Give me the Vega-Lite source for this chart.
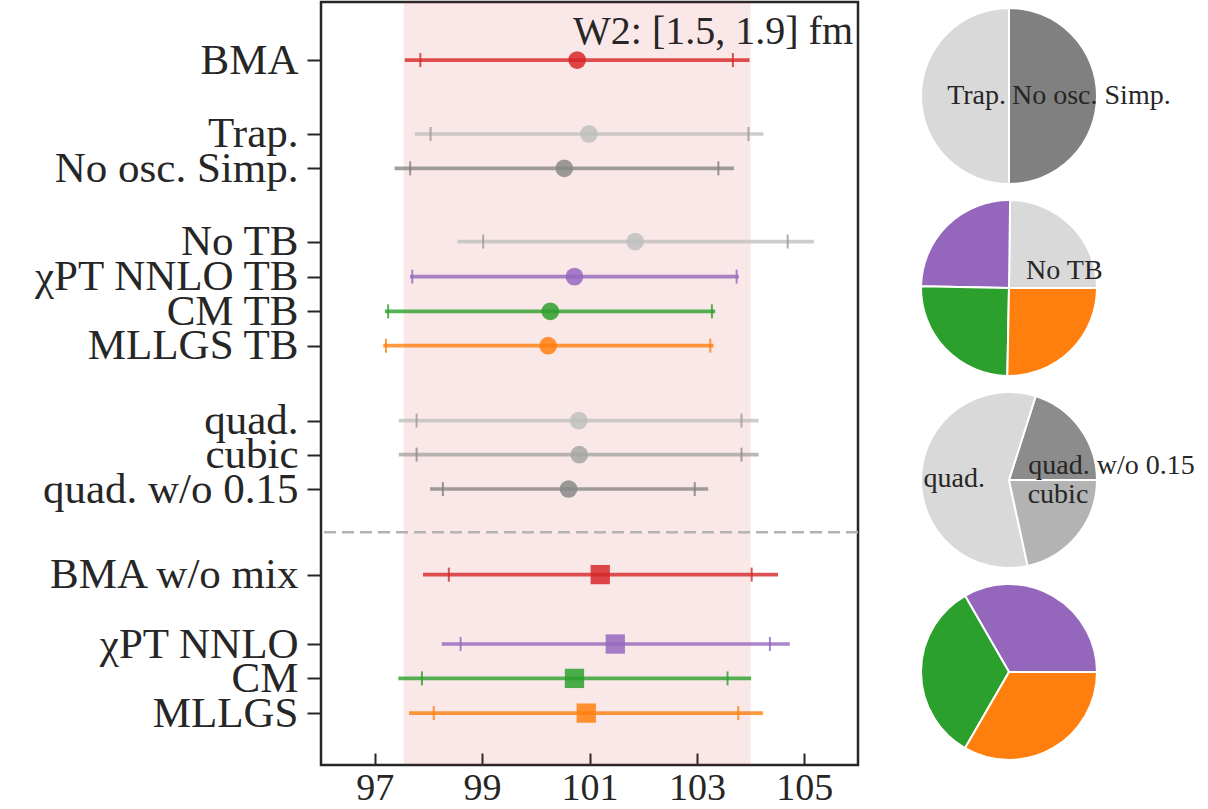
{
  "$schema": "https://vega.github.io/schema/vega-lite/v6.json",
  "background": "white",
  "padding": {"left": 31, "top": 0, "right": 0, "bottom": 0},
  "config": {
    "view": {"stroke": "#262626", "strokeWidth": 2.5},
    "font": "Liberation Serif",
    "axis": {"grid": false, "domain": false, "labelFont": "Liberation Serif", "labelColor": "#262626", "tickColor": "#262626", "tickWidth": 2, "title": null, "labelLimit": 600}
  },
  "datasets": {
    "rows": [
      {"name": "BMA", "pos": 20.51, "section": "mix", "lo": 97.56, "hi": 103.98, "slo": 97.85, "shi": 103.67, "val": 100.77},
      {"name": "Trap.", "pos": 18.36, "section": "mix", "lo": 97.75, "hi": 104.24, "slo": 98.04, "shi": 103.96, "val": 100.99},
      {"name": "No osc. Simp.", "pos": 17.36, "section": "mix", "lo": 97.37, "hi": 103.69, "slo": 97.66, "shi": 103.40, "val": 100.53},
      {"name": "No TB", "pos": 15.23, "section": "mix", "lo": 98.54, "hi": 105.18, "slo": 99.02, "shi": 104.69, "val": 101.85},
      {"name": "χPT NNLO TB", "pos": 14.21, "section": "mix", "lo": 97.66, "hi": 103.78, "slo": 97.70, "shi": 103.74, "val": 100.72},
      {"name": "CM TB", "pos": 13.2, "section": "mix", "lo": 97.19, "hi": 103.34, "slo": 97.25, "shi": 103.28, "val": 100.27},
      {"name": "MLLGS TB", "pos": 12.2, "section": "mix", "lo": 97.16, "hi": 103.31, "slo": 97.21, "shi": 103.25, "val": 100.23},
      {"name": "quad.", "pos": 10.02, "section": "mix", "lo": 97.45, "hi": 104.15, "slo": 97.78, "shi": 103.83, "val": 100.80},
      {"name": "cubic", "pos": 9.03, "section": "mix", "lo": 97.45, "hi": 104.15, "slo": 97.78, "shi": 103.83, "val": 100.81},
      {"name": "quad. w/o 0.15", "pos": 8.03, "section": "mix", "lo": 98.03, "hi": 103.21, "slo": 98.27, "shi": 102.96, "val": 100.61},
      {"name": "BMA w/o mix", "pos": 5.54, "section": "nomix", "lo": 97.90, "hi": 104.51, "slo": 98.38, "shi": 104.02, "val": 101.20},
      {"name": "χPT NNLO", "pos": 3.52, "section": "nomix", "lo": 98.25, "hi": 104.73, "slo": 98.60, "shi": 104.36, "val": 101.48},
      {"name": "CM", "pos": 2.52, "section": "nomix", "lo": 97.44, "hi": 104.01, "slo": 97.88, "shi": 103.57, "val": 100.72},
      {"name": "MLLGS", "pos": 1.51, "section": "nomix", "lo": 97.64, "hi": 104.23, "slo": 98.10, "shi": 103.77, "val": 100.94}
    ],
    "band": [{"lo": 97.54, "hi": 104.0}],
    "sep": [{"pos": 6.77}],
    "label": [{"text": "W2: [1.5, 1.9] fm", "x": 106, "y": 22.2}],
    "pies": [
      {"pie": 1, "idx": 1, "name": "Trap.", "w": 0.5, "label": "Trap."},
      {"pie": 1, "idx": 2, "name": "No osc. Simp.", "w": 0.5, "label": "No osc. Simp."},
      {"pie": 2, "idx": 1, "name": "No TB", "w": 0.248, "label": "No TB"},
      {"pie": 2, "idx": 2, "name": "χPT NNLO TB", "w": 0.249, "label": ""},
      {"pie": 2, "idx": 3, "name": "CM TB", "w": 0.25, "label": ""},
      {"pie": 2, "idx": 4, "name": "MLLGS TB", "w": 0.253, "label": ""},
      {"pie": 3, "idx": 1, "name": "quad. w/o 0.15", "w": 0.201, "label": "quad. w/o 0.15"},
      {"pie": 3, "idx": 2, "name": "quad.", "w": 0.583, "label": "quad."},
      {"pie": 3, "idx": 3, "name": "cubic", "w": 0.216, "label": "cubic"},
      {"pie": 4, "idx": 1, "name": "χPT NNLO", "w": 0.3333, "label": ""},
      {"pie": 4, "idx": 2, "name": "CM", "w": 0.3333, "label": ""},
      {"pie": 4, "idx": 3, "name": "MLLGS", "w": 0.3334, "label": ""}
    ]
  },
  "resolve": {"scale": {"color": "independent", "theta": "independent"}},
  "spacing": 56,
  "hconcat": [
    {
      "width": 537,
      "height": 763,
      "resolve": {"scale": {"color": "independent"}},
      "layer": [
        {
          "data": {"name": "band"},
          "mark": {"type": "rect", "color": "#d62728", "opacity": 0.11},
          "encoding": {
            "x": {"field": "lo", "type": "quantitative", "scale": {"domain": [96, 106], "nice": false, "zero": false},
                  "axis": {"values": [97, 99, 101, 103, 105], "tickSize": -12, "labelPadding": 16, "labelFontSize": 38, "labelFlush": false, "title": null}},
            "x2": {"field": "hi"}
          }
        },
        {
          "data": {"name": "sep"},
          "mark": {"type": "rule", "color": "#b3b3b3", "strokeWidth": 2.5, "strokeDash": [12, 6]},
          "encoding": {
            "y": {"field": "pos", "type": "quantitative", "scale": {"domain": [0, 22.2], "nice": false, "zero": false},
                  "axis": {"values": [20.51, 18.36, 17.36, 15.23, 14.21, 13.2, 12.2, 10.02, 9.03, 8.03, 5.54, 3.52, 2.52, 1.51], "labelExpr": "datum.value == 20.51 ? 'BMA' : datum.value == 18.36 ? 'Trap.' : datum.value == 17.36 ? 'No osc. Simp.' : datum.value == 15.23 ? 'No TB' : datum.value == 14.21 ? 'χPT NNLO TB' : datum.value == 13.2 ? 'CM TB' : datum.value == 12.2 ? 'MLLGS TB' : datum.value == 10.02 ? 'quad.' : datum.value == 9.03 ? 'cubic' : datum.value == 8.03 ? 'quad. w/o 0.15' : datum.value == 5.54 ? 'BMA w/o mix' : datum.value == 3.52 ? 'χPT NNLO' : datum.value == 2.52 ? 'CM' : datum.value == 1.51 ? 'MLLGS' : ''", "tickSize": 14, "labelPadding": 9, "labelFontSize": 43, "labelLimit": 600, "labelOverlap": false, "labelFlush": false, "labelBound": false, "title": null}}
          }
        },
        {
          "data": {"name": "rows"},
          "mark": {"type": "rule", "strokeWidth": 3.7, "opacity": 0.8},
          "encoding": {
            "y": {"field": "pos", "type": "quantitative"},
            "x": {"field": "lo", "type": "quantitative"},
            "x2": {"field": "hi"},
            "color": {"field": "name", "type": "nominal", "legend": null,
                      "scale": {"domain": ["BMA","Trap.","No osc. Simp.","No TB","χPT NNLO TB","CM TB","MLLGS TB","quad.","cubic","quad. w/o 0.15","BMA w/o mix","χPT NNLO","CM","MLLGS"],
                                "range": ["#d62728","#c0c0c0","#888888","#c0c0c0","#9467bd","#2ca02c","#ff7f0e","#c0c0c0","#a6a6a6","#888888","#d62728","#9467bd","#2ca02c","#ff7f0e"]}}
          }
        },
        {
          "data": {"name": "rows"},
          "mark": {"type": "tick", "orient": "vertical", "size": 14, "thickness": 2, "opacity": 0.8},
          "encoding": {
            "y": {"field": "pos", "type": "quantitative"},
            "x": {"field": "slo", "type": "quantitative"},
            "color": {"field": "name", "type": "nominal", "legend": null,
                      "scale": {"domain": ["BMA","Trap.","No osc. Simp.","No TB","χPT NNLO TB","CM TB","MLLGS TB","quad.","cubic","quad. w/o 0.15","BMA w/o mix","χPT NNLO","CM","MLLGS"],
                                "range": ["#d62728","#9a9a9a","#808080","#9a9a9a","#9467bd","#2ca02c","#ff7f0e","#9a9a9a","#8c8c8c","#808080","#d62728","#9467bd","#2ca02c","#ff7f0e"]}}
          }
        },
        {
          "data": {"name": "rows"},
          "mark": {"type": "tick", "orient": "vertical", "size": 14, "thickness": 2, "opacity": 0.8},
          "encoding": {
            "y": {"field": "pos", "type": "quantitative"},
            "x": {"field": "shi", "type": "quantitative"},
            "color": {"field": "name", "type": "nominal", "legend": null,
                      "scale": {"domain": ["BMA","Trap.","No osc. Simp.","No TB","χPT NNLO TB","CM TB","MLLGS TB","quad.","cubic","quad. w/o 0.15","BMA w/o mix","χPT NNLO","CM","MLLGS"],
                                "range": ["#d62728","#9a9a9a","#808080","#9a9a9a","#9467bd","#2ca02c","#ff7f0e","#9a9a9a","#8c8c8c","#808080","#d62728","#9467bd","#2ca02c","#ff7f0e"]}}
          }
        },
        {
          "data": {"name": "rows"},
          "transform": [{"filter": "datum.section == 'mix'"}],
          "mark": {"type": "point", "shape": "circle", "filled": true, "size": 314, "opacity": 0.85},
          "encoding": {
            "y": {"field": "pos", "type": "quantitative"},
            "x": {"field": "val", "type": "quantitative"},
            "color": {"field": "name", "type": "nominal", "legend": null,
                      "scale": {"domain": ["BMA","Trap.","No osc. Simp.","No TB","χPT NNLO TB","CM TB","MLLGS TB","quad.","cubic","quad. w/o 0.15","BMA w/o mix","χPT NNLO","CM","MLLGS"],
                                "range": ["#d62728","#c0c0c0","#888888","#c0c0c0","#9467bd","#2ca02c","#ff7f0e","#c0c0c0","#a6a6a6","#888888","#d62728","#9467bd","#2ca02c","#ff7f0e"]}}
          }
        },
        {
          "data": {"name": "rows"},
          "transform": [{"filter": "datum.section == 'nomix'"}],
          "mark": {"type": "point", "shape": "square", "filled": true, "size": 372, "opacity": 0.85},
          "encoding": {
            "y": {"field": "pos", "type": "quantitative"},
            "x": {"field": "val", "type": "quantitative"},
            "color": {"field": "name", "type": "nominal", "legend": null,
                      "scale": {"domain": ["BMA","Trap.","No osc. Simp.","No TB","χPT NNLO TB","CM TB","MLLGS TB","quad.","cubic","quad. w/o 0.15","BMA w/o mix","χPT NNLO","CM","MLLGS"],
                                "range": ["#d62728","#c0c0c0","#888888","#c0c0c0","#9467bd","#2ca02c","#ff7f0e","#c0c0c0","#a6a6a6","#888888","#d62728","#9467bd","#2ca02c","#ff7f0e"]}}
          }
        },
        {
          "data": {"name": "label"},
          "mark": {"type": "text", "align": "right", "baseline": "alphabetic", "dx": -5, "dy": 42, "font": "Liberation Serif", "fontSize": 40, "color": "#262626"},
          "encoding": {
            "x": {"field": "x", "type": "quantitative"},
            "y": {"field": "y", "type": "quantitative"},
            "text": {"field": "text"}
          }
        }
      ]
    },
    {
      "spacing": 0,
      "resolve": {"scale": {"color": "independent", "theta": "independent"}},
      "vconcat": [
        {
          "width": 176, "height": 192, "view": {"stroke": null},
          "data": {"name": "pies"},
          "transform": [{"filter": "datum.pie == 1"}],
          "encoding": {
            "theta": {"field": "w", "type": "quantitative", "stack": true, "scale": {"domain": [0, 1], "range": [0, -6.283185]}},
            "order": {"field": "idx", "type": "quantitative"}
          },
          "layer": [
            {"mark": {"type": "arc", "radius": 88, "stroke": "white", "strokeWidth": 2, "yOffset": -2},
             "encoding": {"color": {"field": "name", "type": "nominal", "legend": null, "scale": {"domain": ["Trap.", "No osc. Simp."], "range": ["#d9d9d9", "#808080"]}}}},
            {"mark": {"type": "text", "radius": 3, "fontSize": 28, "font": "Liberation Serif", "color": "#262626", "baseline": "middle", "yOffset": -2,
                      "align": {"expr": "sin(PI*(datum.w_start+datum.w_end)) > 0 ? 'right' : 'left'"}},
             "encoding": {"text": {"field": "label"}, "detail": {"field": "name"}}}
          ]
        },
        {
          "width": 176, "height": 192, "view": {"stroke": null},
          "data": {"name": "pies"},
          "transform": [{"filter": "datum.pie == 2"}],
          "encoding": {
            "theta": {"field": "w", "type": "quantitative", "stack": true, "scale": {"domain": [0, 1], "range": [1.570796, -4.712389]}},
            "order": {"field": "idx", "type": "quantitative"}
          },
          "layer": [
            {"mark": {"type": "arc", "radius": 88, "stroke": "white", "strokeWidth": 2, "yOffset": -2},
             "encoding": {"color": {"field": "name", "type": "nominal", "legend": null, "scale": {"domain": ["No TB", "χPT NNLO TB", "CM TB", "MLLGS TB"], "range": ["#d9d9d9", "#9467bd", "#2ca02c", "#ff7f0e"]}}}},
            {"mark": {"type": "text", "radius": 24, "fontSize": 28, "font": "Liberation Serif", "color": "#262626", "baseline": "middle", "yOffset": -2,
                      "align": {"expr": "cos(PI*(datum.w_start+datum.w_end)) > 0 ? 'left' : 'right'"}},
             "encoding": {"text": {"field": "label"}, "detail": {"field": "name"}}}
          ]
        },
        {
          "width": 176, "height": 192, "view": {"stroke": null},
          "data": {"name": "pies"},
          "transform": [{"filter": "datum.pie == 3"}],
          "encoding": {
            "theta": {"field": "w", "type": "quantitative", "stack": true, "scale": {"domain": [0, 1], "range": [1.570796, -4.712389]}},
            "order": {"field": "idx", "type": "quantitative"}
          },
          "layer": [
            {"mark": {"type": "arc", "radius": 88, "stroke": "white", "strokeWidth": 2, "yOffset": -2},
             "encoding": {"color": {"field": "name", "type": "nominal", "legend": null, "scale": {"domain": ["quad. w/o 0.15", "quad.", "cubic"], "range": ["#8c8c8c", "#d9d9d9", "#b3b3b3"]}}}},
            {"mark": {"type": "text", "radius": 24, "fontSize": 28, "font": "Liberation Serif", "color": "#262626", "baseline": "middle", "yOffset": -2,
                      "align": {"expr": "cos(PI*(datum.w_start+datum.w_end)) > 0 ? 'left' : 'right'"}},
             "encoding": {"text": {"field": "label"}, "detail": {"field": "name"}}}
          ]
        },
        {
          "width": 176, "height": 192, "view": {"stroke": null},
          "data": {"name": "pies"},
          "transform": [{"filter": "datum.pie == 4"}],
          "encoding": {
            "theta": {"field": "w", "type": "quantitative", "stack": true, "scale": {"domain": [0, 1], "range": [1.570796, -4.712389]}},
            "order": {"field": "idx", "type": "quantitative"}
          },
          "layer": [
            {"mark": {"type": "arc", "radius": 88, "stroke": "white", "strokeWidth": 2, "yOffset": -2},
             "encoding": {"color": {"field": "name", "type": "nominal", "legend": null, "scale": {"domain": ["χPT NNLO", "CM", "MLLGS"], "range": ["#9467bd", "#2ca02c", "#ff7f0e"]}}}}
          ]
        }
      ]
    }
  ]
}
